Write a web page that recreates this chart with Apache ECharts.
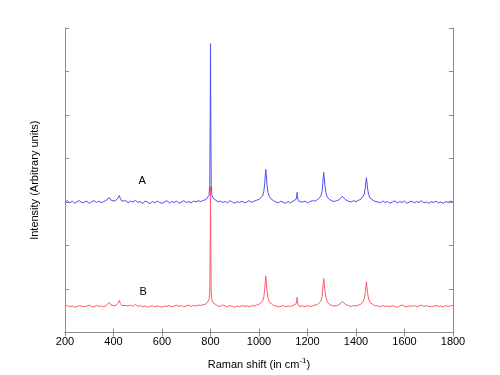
<!DOCTYPE html>
<html>
<head>
<meta charset="utf-8">
<script src="https://cdn.jsdelivr.net/npm/echarts@6/dist/echarts.min.js"></script>
<style>html,body{margin:0;padding:0;background:#fff}#c{width:500px;height:375px}</style>
</head>
<body>
<div id="c"></div>
<script>
// Raman shift (cm^-1)
const ramanShift = [
  200,210,220,230,240,250,260,270,280,290,300,310,320,330,340,350,360,370,
  376,383,390,398,406,414,420,424,428,434,442,450,
  460,470,480,490,500,510,520,530,540,550,560,570,580,590,600,610,620,630,640,650,660,670,680,690,700,710,720,730,740,750,760,770,
  780,788,794,797,799,800,801,803,806,812,820,830,
  840,850,860,870,880,890,900,910,920,930,940,950,960,970,980,990,1000,
  1008,1015,1020,1024,1026,1028,1030,1033,1037,1043,1050,1060,
  1070,1080,1090,1100,1110,1120,1130,1140,
  1148,1153,1156,1157,1158,1161,1166,1174,
  1180,1190,1200,1210,1220,1230,1240,
  1248,1255,1260,1263,1265,1267,1269,1272,1276,1282,1290,1300,
  1310,1320,1330,1337,1344,1350,1358,1368,1380,1390,1400,1410,
  1420,1428,1434,1438,1441,1443,1445,1448,1452,1458,1466,1476,
  1490,1500,1510,1520,1530,1540,1550,1560,1570,1580,1590,1600,1610,1620,1630,1640,1650,1660,1670,1680,1690,1700,1710,1720,1730,1740,1750,1760,1770,1780,1790,1800
];
// Spectrum A (offset)
const intensityA = [
  3.00,3.03,2.98,3.02,2.97,3.01,3.03,2.98,3.00,3.02,2.97,3.01,3.03,2.99,3.02,2.98,3.01,3.04,
  3.05,3.10,3.04,3.00,3.02,3.05,3.10,3.15,3.08,3.02,3.00,3.03,
  2.98,3.02,3.00,3.04,2.99,3.01,2.97,3.02,3.00,2.96,3.01,2.98,3.02,2.99,2.97,3.00,3.03,2.98,3.01,2.99,3.02,2.97,3.00,3.03,2.99,3.01,2.98,3.02,3.00,3.03,3.01,3.04,
  3.05,3.08,3.15,3.40,5.20,6.64,5.20,3.40,3.15,3.08,3.04,3.01,
  3.02,2.99,3.01,2.98,3.03,3.00,2.97,3.01,2.99,3.02,2.98,3.00,3.03,2.99,3.02,3.04,3.06,
  3.09,3.14,3.25,3.45,3.62,3.75,3.62,3.40,3.22,3.12,3.07,3.03,
  3.00,2.98,3.02,2.99,2.97,3.01,2.98,3.02,
  3.02,3.06,3.15,3.22,3.15,3.06,3.01,2.98,
  3.00,3.02,2.98,3.01,3.03,3.02,3.05,
  3.08,3.13,3.24,3.42,3.57,3.68,3.56,3.38,3.21,3.11,3.06,3.03,
  3.01,3.03,3.05,3.09,3.13,3.09,3.05,3.02,3.00,3.03,3.01,3.04,
  3.06,3.10,3.18,3.32,3.46,3.56,3.46,3.30,3.17,3.09,3.05,3.02,
  3.00,2.98,3.02,2.99,3.01,2.97,3.00,3.03,2.98,3.01,2.99,3.02,2.97,3.00,3.02,2.98,3.01,2.99,3.03,2.98,3.00,2.97,3.01,2.99,3.02,2.98,3.00,2.97,3.01,2.99,3.02,3.00
];
// Spectrum B
const intensityB = [
  0.60,0.62,0.59,0.61,0.58,0.60,0.62,0.60,0.59,0.61,0.63,0.60,0.59,0.62,0.60,0.61,0.59,0.62,
  0.63,0.69,0.63,0.60,0.61,0.64,0.68,0.74,0.67,0.62,0.60,0.62,
  0.61,0.63,0.60,0.65,0.60,0.62,0.59,0.61,0.58,0.60,0.62,0.59,0.61,0.60,0.58,0.61,0.60,0.62,0.59,0.61,0.63,0.60,0.62,0.59,0.61,0.63,0.60,0.62,0.61,0.63,0.62,0.64,
  0.65,0.68,0.75,0.90,2.10,3.35,2.10,0.90,0.75,0.68,0.64,0.61,
  0.60,0.63,0.61,0.59,0.62,0.60,0.58,0.61,0.59,0.62,0.60,0.61,0.59,0.62,0.61,0.63,0.65,
  0.67,0.72,0.82,1.02,1.18,1.30,1.17,0.97,0.80,0.70,0.66,0.62,
  0.61,0.59,0.60,0.62,0.59,0.61,0.60,0.62,
  0.62,0.66,0.75,0.81,0.74,0.65,0.60,0.59,
  0.61,0.59,0.62,0.60,0.61,0.63,0.64,
  0.67,0.72,0.83,1.00,1.14,1.24,1.13,0.96,0.80,0.70,0.65,0.62,
  0.61,0.62,0.64,0.68,0.71,0.68,0.64,0.62,0.60,0.62,0.61,0.63,
  0.65,0.70,0.78,0.92,1.07,1.17,1.06,0.90,0.77,0.69,0.65,0.62,
  0.61,0.59,0.62,0.60,0.61,0.59,0.62,0.60,0.58,0.61,0.63,0.60,0.59,0.61,0.60,0.62,0.59,0.61,0.63,0.60,0.62,0.60,0.59,0.61,0.62,0.60,0.61,0.59,0.62,0.60,0.61,0.62
];
const xTicks = [200, 400, 600, 800, 1000, 1200, 1400, 1600, 1800];
const labelA = {name: 'A', x: 518, y: 3.49};
const labelB = {name: 'B', x: 522, y: 0.94};

const pairs = ys => ramanShift.map((x, i) => [x, ys[i]]);
const font = 'Liberation Sans, Arial, sans-serif';
const frame = '#8c8c8c';

const chart = echarts.init(document.getElementById('c'), null, {renderer: 'canvas'});
const axisCommon = {
  min: xTicks[0], max: xTicks[xTicks.length - 1], interval: 200, type: 'value'
};
chart.setOption({
  animation: false,
  backgroundColor: '#fff',
  grid: {left: 65, right: 47, top: 28, bottom: 42, show: false},
  xAxis: [
    Object.assign({}, axisCommon, {
      position: 'bottom',
      name: '{t|Raman shift (in cm}{s|-1}{t|)}',
      nameLocation: 'middle', nameGap: 24,
      nameTextStyle: {rich: {
        t: {fontFamily: font, fontSize: 11, color: '#000'},
        s: {fontFamily: font, fontSize: 8, color: '#000', verticalAlign: 'bottom', padding: [0, 0, 8, 0]}
      }},
      axisLine: {show: true, lineStyle: {color: frame, width: 1}},
      axisTick: {show: true, inside: true, length: 4, lineStyle: {color: frame}},
      axisLabel: {color: '#000', fontFamily: font, fontSize: 11, margin: 4, formatter: v => String(v)},
      splitLine: {show: false}
    }),
    Object.assign({}, axisCommon, {
      position: 'top',
      axisLine: {show: true, lineStyle: {color: frame, width: 1}},
      axisTick: {show: true, inside: true, length: 4, lineStyle: {color: frame}},
      axisLabel: {show: false},
      splitLine: {show: false}
    })
  ],
  yAxis: [
    {
      type: 'value', min: 0, max: 7, interval: 1, position: 'left',
      name: 'Intensity (Arbitrary units)', nameLocation: 'middle', nameGap: 25,
      nameTextStyle: {fontFamily: font, fontSize: 11, color: '#000'},
      axisLine: {show: true, lineStyle: {color: frame, width: 1}},
      axisTick: {show: true, inside: true, length: 4, lineStyle: {color: frame}},
      axisLabel: {show: false},
      splitLine: {show: false}
    },
    {
      type: 'value', min: 0, max: 7, interval: 1, position: 'right',
      axisLine: {show: true, lineStyle: {color: frame, width: 1}},
      axisTick: {show: true, inside: true, length: 4, lineStyle: {color: frame}},
      axisLabel: {show: false},
      splitLine: {show: false}
    }
  ],
  series: [
    {
      type: 'line', name: 'B', data: pairs(intensityB), showSymbol: false,
      lineStyle: {color: '#ff5a6a', width: 1}, itemStyle: {color: '#ff5a6a'},
      z: 2,
      markPoint: {
        symbol: 'circle', symbolSize: 0, silent: true,
        label: {show: true, formatter: '{b}', color: '#000', fontFamily: font, fontSize: 11, position: 'inside'},
        data: [{name: labelB.name, coord: [labelB.x, labelB.y]}]
      }
    },
    {
      type: 'line', name: 'A', data: pairs(intensityA), showSymbol: false,
      lineStyle: {color: '#4f4ff5', width: 1}, itemStyle: {color: '#4f4ff5'},
      z: 3,
      markPoint: {
        symbol: 'circle', symbolSize: 0, silent: true,
        label: {show: true, formatter: '{b}', color: '#000', fontFamily: font, fontSize: 11, position: 'inside'},
        data: [{name: labelA.name, coord: [labelA.x, labelA.y]}]
      }
    }
  ]
});
</script>
</body>
</html>
